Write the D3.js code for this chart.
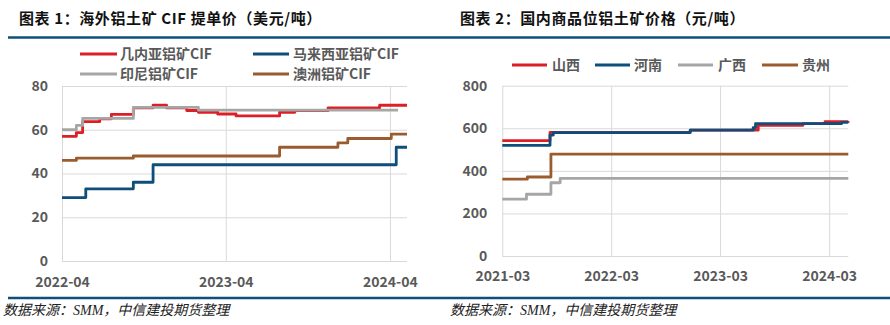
<!DOCTYPE html>
<html><head><meta charset="utf-8">
<script src="https://cdn.jsdelivr.net/npm/d3@7"></script>
<style>
html,body{margin:0;padding:0;background:#fff;}
svg{display:block;}
</style></head>
<body>
<svg id="c" width="890" height="325"></svg>
<script>
// ---------- Chart 1 data: 海外铝土矿 CIF 提单价（美元/吨） ----------
const leftTitle = "图表 1：海外铝土矿 CIF 提单价（美元/吨）";
const leftNames = ["几内亚铝矿CIF", "马来西亚铝矿CIF", "印尼铝矿CIF", "澳洲铝矿CIF"];
const leftYTicks = [0, 20, 40, 60, 80];
const leftXTicks = ["2022-04", "2023-04", "2024-04"];
const guineaCIF = [["2022-04-01",57],["2022-05-03",58.7],["2022-05-17",63.7],["2022-06-24",65],["2022-07-20",67],["2022-09-07",70],["2022-10-21",71.3],["2022-11-20",70],["2023-01-04",68.8],["2023-01-30",68],["2023-03-14",67.2],["2023-04-24",66.3],["2023-07-30",68],["2023-09-02",68.7],["2023-11-15",70],["2024-03-09",71.2],["2024-05-09",71.2]];
const malaysiaCIF = [["2022-04-01",29],["2022-05-24",33],["2022-09-07",36],["2022-10-21",44],["2024-04-15",52],["2024-05-09",52]];
const indonesiaCIF = [["2022-04-01",60],["2022-05-03",62],["2022-05-17",65.2],["2022-09-07",70.2],["2023-01-30",69],["2024-04-19",69]];
const australiaCIF = [["2022-04-01",46],["2022-05-03",47],["2022-09-07",48],["2023-07-30",52],["2023-12-07",54],["2023-12-29",56],["2024-04-04",58],["2024-05-09",58]];

// ---------- Chart 2 data: 国内商品位铝土矿价格（元/吨） ----------
const rightTitle = "图表 2：国内商品位铝土矿价格（元/吨）";
const rightNames = ["山西", "河南", "广西", "贵州"];
const rightYTicks = [0, 200, 400, 600, 800];
const rightXTicks = ["2021-03", "2022-03", "2023-03", "2024-03"];
const shanxi = [["2021-03-01",542],["2021-08-08",581],["2022-11-21",591],["2023-07-07",614],["2023-12-04",622],["2024-02-16",631],["2024-05-04",633]];
const henan = [["2021-03-01",520],["2021-08-08",568],["2021-08-19",580],["2022-11-21",591],["2023-06-20",603],["2023-06-28",622],["2024-04-12",628],["2024-05-04",628]];
const guangxi = [["2021-03-01",267],["2021-05-21",290],["2021-08-11",344],["2021-09-11",365],["2024-05-04",365]];
const guizhou = [["2021-03-01",361],["2021-05-24",371],["2021-08-11",479],["2024-05-04",479]];

const sourceText = "数据来源：SMM，中信建投期货整理";
const colors = {red:"#DC1E26", blue:"#0D4E7B", gray:"#A6A6A6", brown:"#9A5C2E"};

const svg = d3.select("#c");
const parse = d3.timeParse("%Y-%m-%d");
const parseM = d3.timeParse("%Y-%m");
const lblFont = "'Noto Sans CJK SC','Noto Sans',sans-serif";

// Frame rules
const ruleColor = "#0F4F7C";
svg.append("line").attr("x1",8).attr("x2",890).attr("y1",37.5).attr("y2",37.5).attr("stroke",ruleColor).attr("stroke-width",2.5);
svg.append("line").attr("x1",8).attr("x2",890).attr("y1",298).attr("y2",298).attr("stroke",ruleColor).attr("stroke-width",2.5);

function title(x, text){
  svg.append("text").attr("x",x).attr("y",24).text(text)
    .attr("font-family","'Noto Sans CJK SC',sans-serif").attr("font-weight",700)
    .attr("font-size",15).attr("fill","#111").attr("letter-spacing",0.6);
}
function footer(x){
  svg.append("text").attr("x",x).attr("y",315).text(sourceText)
    .attr("font-family","'Liberation Serif','Noto Sans CJK SC',serif").attr("font-style","italic")
    .attr("font-size",14).attr("fill","#222");
}
title(19, leftTitle);
title(460, rightTitle);
footer(3);
footer(450);

function drawChart(o){
  const g = svg.append("g");
  const x = d3.scaleTime().domain(o.xDomain.map(parse)).range([o.x0, o.x1]);
  const y = d3.scaleLinear().domain([o.yTicks[0], o.yTicks[o.yTicks.length-1]]).range([o.y0, o.y1]);
  // horizontal grid
  g.append("g").attr("transform",`translate(${o.x0},0)`)
    .call(d3.axisLeft(y).tickValues(o.yTicks).tickSize(-(o.x1-o.x0)).tickPadding(o.yPad).tickFormat(d3.format("d")))
    .call(a=>{
      a.select(".domain").remove();
      a.selectAll(".tick line").attr("stroke","#D9D9D9").attr("stroke-width",1);
      a.selectAll(".tick text").attr("font-family",lblFont).attr("font-weight",700).attr("font-size",14).attr("fill","#595959");
    });
  // vertical grid + x labels
  const xt = o.xTicks.map(parseM);
  g.append("g").attr("transform",`translate(0,${o.y0})`)
    .call(d3.axisBottom(x).tickValues(xt).tickSize(-(o.y0-o.y1)).tickPadding(o.xPad).tickFormat(d3.timeFormat("%Y-%m")))
    .call(a=>{
      a.select(".domain").remove();
      a.selectAll(".tick line").attr("stroke","#D9D9D9").attr("stroke-width",1);
      a.selectAll(".tick text").attr("font-family",lblFont).attr("font-weight",700).attr("font-size",14).attr("fill","#595959");
    });
  const line = d3.line().x(d=>x(parse(d[0]))).y(d=>y(d[1])).curve(d3.curveStepAfter);
  o.series.forEach(s=>{
    g.append("path").datum(s.data).attr("d",line).attr("fill","none")
      .attr("stroke",s.color).attr("stroke-width",2.8).attr("stroke-linejoin","round");
  });
  // legend
  o.legend.forEach((l,i)=>{
    const s = o.series[i];
    g.append("line").attr("x1",l[0]).attr("x2",l[1]).attr("y1",l[3]).attr("y2",l[3])
      .attr("stroke",s.color).attr("stroke-width",3);
    g.append("text").attr("x",l[2]).attr("y",l[3]).attr("dy","0.35em").text(s.name)
      .attr("font-family",lblFont).attr("font-weight",700).attr("font-size",14).attr("fill","#595959");
  });
}

drawChart({
  x0:62, x1:407, y0:261, y1:86,
  xDomain:["2022-04-01","2024-05-09"], yTicks:leftYTicks, xTicks:leftXTicks,
  yPad:14, xPad:16,
  series:[
    {name:leftNames[0], data:guineaCIF, color:colors.red},
    {name:leftNames[1], data:malaysiaCIF, color:colors.blue},
    {name:leftNames[2], data:indonesiaCIF, color:colors.gray},
    {name:leftNames[3], data:australiaCIF, color:colors.brown}
  ],
  legend:[[80,117,120,54],[253,289,293,54],[80,117,120,74],[253,289,293,74]]
});
drawChart({
  x0:502.3, x1:848.3, y0:256, y1:85.7,
  xDomain:["2021-03-01","2024-05-04"], yTicks:rightYTicks, xTicks:rightXTicks,
  yPad:15, xPad:15,
  series:[
    {name:rightNames[0], data:shanxi, color:colors.red},
    {name:rightNames[1], data:henan, color:colors.blue},
    {name:rightNames[2], data:guangxi, color:colors.gray},
    {name:rightNames[3], data:guizhou, color:colors.brown}
  ],
  legend:[[512,547,552,65],[595,630,634,65],[678,713,718,65],[762,798,802,65]]
});
</script>
</body></html>
